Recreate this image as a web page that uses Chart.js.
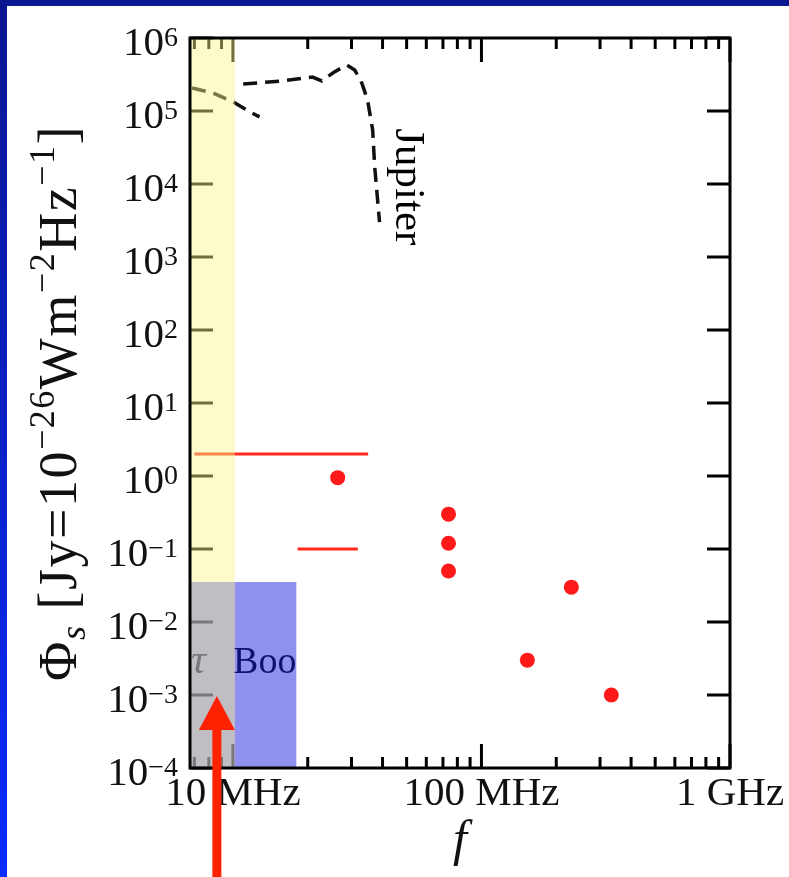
<!DOCTYPE html>
<html><head><meta charset="utf-8">
<script src="https://cdn.jsdelivr.net/npm/chart.js@4.4.0/dist/chart.umd.min.js"></script>
<style>html,body{margin:0;padding:0;background:#fff;overflow:hidden}canvas{display:block}</style>
</head><body>
<canvas id="c" width="789" height="877"></canvas>
<script>
// ---- data (frequency in MHz, flux in Jy) ----
const jupiterHighF    = [11.0, 15.7, 20.9, 22.8, 24.2, 25.5, 28.7, 30.9, 33.0, 34.8, 36.5, 37.2, 38.9];
const jupiterHighFlux = [2.34e5, 2.58e5, 2.92e5, 2.58e5, 3.0e5, 3.4e5, 4.27e5, 3.65e5, 2.42e5, 1.42e5, 5.5e4, 1.71e4, 3.0e3];
const jupiterLowF     = [6.85, 8.31, 10.2, 11.7, 12.8];
const jupiterLowFlux  = [2.07e5, 1.77e5, 1.29e5, 9.7e4, 8.3e4];
const limitUpperF     = [7.0, 35.0];
const limitUpperFlux  = [2.0, 2.0];
const limitLowerF     = [18.2, 31.8];
const limitLowerFlux  = [0.1, 0.1];
const detectF         = [26.4, 73.7, 73.7, 73.7, 230, 153, 333];
const detectFlux      = [0.95, 0.3, 0.12, 0.05, 0.03, 0.003, 0.001];
const yellowBandF     = [6.72, 10.19];
const blueBoxF        = [6.72, 18.0];
const blueBoxFlux     = [1e-4, 0.0353];
const xRange          = [6.72, 1000];
const yRange          = [1e-4, 1e6];
const xMajorTicks     = [10, 100, 1000];
const xMajorLabels    = ['10 MHz', '100 MHz', '1 GHz'];
const xMinorTicks     = [7, 8, 9, 20, 30, 40, 50, 60, 70, 80, 90, 200, 300, 400, 500, 600, 700, 800, 900];
const yTickExponents  = [-4, -3, -2, -1, 0, 1, 2, 3, 4, 5, 6];
const starLabelAt     = [6.85, 2.0e-3];
const jupiterLabelAt  = [45.1, 5.8e4];
const arrowTipAt      = [8.62, 9.7e-4];

const W = 789, H = 877;
const SERIF = '"Liberation Serif", "DejaVu Serif", serif';

function pts(xs, ys) { return xs.map((x, i) => ({x: x, y: ys[i]})); }

function drawRich(ctx, pieces, x, y) {
  let cx = x;
  for (const p of pieces) {
    ctx.font = (p.italic ? 'italic ' : '') + p.size + 'px ' + SERIF;
    ctx.fillText(p.t, cx, y + (p.dy || 0));
    cx += ctx.measureText(p.t).width;
  }
  return cx - x;
}
function richWidth(ctx, pieces) {
  let w = 0;
  for (const p of pieces) {
    ctx.font = (p.italic ? 'italic ' : '') + p.size + 'px ' + SERIF;
    w += ctx.measureText(p.t).width;
  }
  return w;
}

const customDraw = {
  id: 'customDraw',
  beforeDraw(chart) {
    const ctx = chart.ctx;
    ctx.save();
    ctx.fillStyle = '#ffffff';
    ctx.fillRect(0, 0, W, H);
    ctx.fillStyle = '#0a1892';
    ctx.fillRect(0, 0, W, 6);
    const g = ctx.createLinearGradient(0, 0, 0, H);
    g.addColorStop(0, '#0a1690');
    g.addColorStop(1, '#0a2cff');
    ctx.fillStyle = g;
    ctx.fillRect(0, 0, 7, H);
    ctx.restore();
  },
  beforeDatasetsDraw(chart) {
    const ctx = chart.ctx, a = chart.chartArea;
    const xs = chart.scales.x, ys = chart.scales.y;
    ctx.save();
    ctx.strokeStyle = '#000';
    ctx.lineWidth = 3;
    ctx.beginPath();
    for (const v of xMajorTicks) {
      const px = xs.getPixelForValue(v);
      ctx.moveTo(px, a.top); ctx.lineTo(px, a.top + 24);
      ctx.moveTo(px, a.bottom); ctx.lineTo(px, a.bottom - 24);
    }
    for (const v of xMinorTicks) {
      const px = xs.getPixelForValue(v);
      ctx.moveTo(px, a.top); ctx.lineTo(px, a.top + 11);
      ctx.moveTo(px, a.bottom); ctx.lineTo(px, a.bottom - 11);
    }
    for (const e of yTickExponents) {
      const py = ys.getPixelForValue(Math.pow(10, e));
      ctx.moveTo(a.left, py); ctx.lineTo(a.left + 23, py);
      ctx.moveTo(a.right, py); ctx.lineTo(a.right - 23, py);
    }
    ctx.stroke();
    ctx.restore();
  },
  afterDatasetsDraw(chart) {
    const ctx = chart.ctx, a = chart.chartArea;
    const xs = chart.scales.x, ys = chart.scales.y;
    ctx.save();
    // annotations in plot
    ctx.fillStyle = '#000';
    ctx.textBaseline = 'alphabetic';
    const sx = xs.getPixelForValue(starLabelAt[0]), sy = ys.getPixelForValue(starLabelAt[1]);
    ctx.font = 'italic 42px ' + SERIF;
    ctx.fillText('\u03c4', sx - 1, sy);
    ctx.font = '38px ' + SERIF;
    ctx.fillText('Boo', sx + 41, sy);

    ctx.save();
    ctx.translate(xs.getPixelForValue(jupiterLabelAt[0]), ys.getPixelForValue(jupiterLabelAt[1]));
    ctx.rotate(Math.PI / 2);
    ctx.font = '43px ' + SERIF;
    ctx.fillText('Jupiter', 0, 0);
    ctx.restore();

    // overlays
    const bx0 = xs.getPixelForValue(blueBoxF[0]), bx1 = xs.getPixelForValue(blueBoxF[1]);
    const by0 = ys.getPixelForValue(blueBoxFlux[1]), by1 = ys.getPixelForValue(blueBoxFlux[0]);
    ctx.fillStyle = 'rgba(34,34,228,0.5)';
    ctx.fillRect(bx0, by0, bx1 - bx0, by1 - by0);
    const yx0 = xs.getPixelForValue(yellowBandF[0]), yx1 = xs.getPixelForValue(yellowBandF[1]);
    ctx.fillStyle = 'rgba(250,244,140,0.45)';
    ctx.fillRect(yx0, a.top, yx1 - yx0, a.bottom - a.top);

    // frame
    ctx.strokeStyle = '#000';
    ctx.lineWidth = 3;
    ctx.strokeRect(a.left, a.top, a.right - a.left, a.bottom - a.top);

    // y tick labels
    ctx.fillStyle = '#111';
    ctx.textAlign = 'left';
    for (const e of yTickExponents) {
      const py = ys.getPixelForValue(Math.pow(10, e));
      const sup = e < 0 ? '\u2212' + (-e) : String(e);
      ctx.font = '28px ' + SERIF;
      const sw = ctx.measureText(sup).width;
      const right = 178;
      ctx.fillText(sup, right - sw, py + 8);
      ctx.font = '41px ' + SERIF;
      const mw = ctx.measureText('10').width;
      ctx.fillText('10', right - sw - mw, py + 17);
    }
    // x tick labels
    ctx.textAlign = 'center';
    ctx.font = '41px ' + SERIF;
    xMajorTicks.forEach((v, i) => {
      ctx.fillText(xMajorLabels[i], xs.getPixelForValue(v), 805);
    });
    // x title
    ctx.font = 'italic 50px ' + SERIF;
    ctx.fillText('f', (a.left + a.right) / 2, 855);

    // y title
    ctx.textAlign = 'left';
    ctx.letterSpacing = '1.5px';
    const big = 54, small = 36;
    const pieces = [
      {t: '\u03a6', size: big},
      {t: 's', size: small, italic: true, dy: 9},
      {t: ' [Jy=10', size: big},
      {t: '\u221226', size: small, dy: -22},
      {t: 'Wm', size: big},
      {t: '\u22122', size: small, dy: -22},
      {t: 'Hz', size: big},
      {t: '\u22121', size: small, dy: -22},
      {t: ']', size: big}
    ];
    const tw = richWidth(ctx, pieces);
    ctx.save();
    ctx.translate(76, (a.top + a.bottom) / 2);
    ctx.rotate(-Math.PI / 2);
    drawRich(ctx, pieces, -tw / 2, 0);
    ctx.restore();
    ctx.letterSpacing = '0px';

    // red arrow
    const ax = xs.getPixelForValue(arrowTipAt[0]), ay = ys.getPixelForValue(arrowTipAt[1]);
    ctx.fillStyle = '#ff2200';
    ctx.beginPath();
    ctx.moveTo(ax, ay);
    ctx.lineTo(ax + 18, ay + 34);
    ctx.lineTo(ax + 4.5, ay + 34);
    ctx.lineTo(ax + 4.5, H);
    ctx.lineTo(ax - 4.5, H);
    ctx.lineTo(ax - 4.5, ay + 34);
    ctx.lineTo(ax - 18, ay + 34);
    ctx.closePath();
    ctx.fill();
    ctx.restore();
  }
};

const jupStyle = {showLine: true, borderColor: '#111', borderWidth: 3.5, borderDash: [14, 8], pointRadius: 0, fill: false, tension: 0};
const limStyle = {showLine: true, borderColor: '#ff2a1a', borderWidth: 3, pointRadius: 0, fill: false};

new Chart(document.getElementById('c'), {
  type: 'scatter',
  data: {
    datasets: [
      Object.assign({label: 'Jupiter', data: pts(jupiterHighF, jupiterHighFlux)}, jupStyle),
      Object.assign({label: 'Jupiter low', data: pts(jupiterLowF, jupiterLowFlux)}, jupStyle),
      Object.assign({label: 'Upper limit', data: pts(limitUpperF, limitUpperFlux)}, limStyle),
      Object.assign({label: 'Lower limit', data: pts(limitLowerF, limitLowerFlux)}, limStyle),
      {label: 'Predictions', data: pts(detectF, detectFlux), pointRadius: 7.5, pointBackgroundColor: '#ff1a1a', pointBorderWidth: 0, showLine: false}
    ]
  },
  options: {
    responsive: false,
    animation: false,
    layout: {padding: {left: 190, right: 59, top: 38, bottom: 109}},
    plugins: {legend: {display: false}, tooltip: {enabled: false}},
    scales: {
      x: {type: 'logarithmic', min: xRange[0], max: xRange[1], display: false},
      y: {type: 'logarithmic', min: yRange[0], max: yRange[1], display: false}
    }
  },
  plugins: [customDraw]
});
</script>
</body></html>
